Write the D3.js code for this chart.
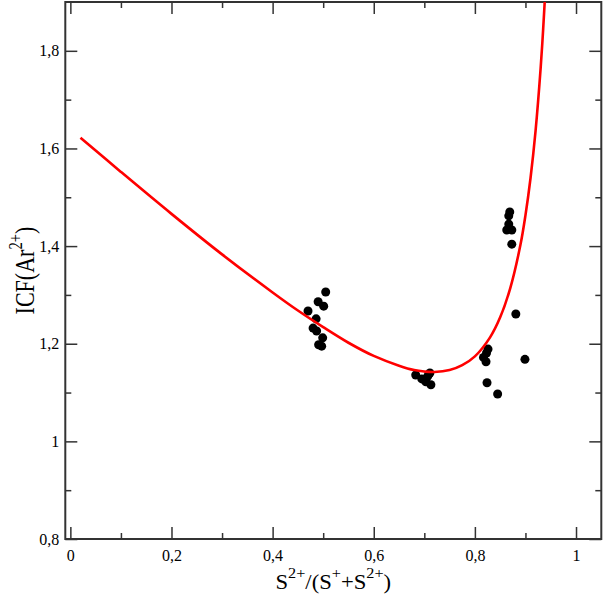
<!DOCTYPE html>
<html>
<head>
<meta charset="utf-8">
<script src="https://cdn.jsdelivr.net/npm/d3@7"></script>
<style>
  html, body { margin: 0; padding: 0; background: #fff; }
  svg { display: block; }
  text { font-family: "Liberation Serif", "DejaVu Serif", serif; fill: #000; }
</style>
</head>
<body>
<svg id="chart" width="603" height="596"></svg>
<script>
// ---- data ----
const obsX = [0.470, 0.505, 0.490, 0.501, 0.486, 0.480, 0.487, 0.499, 0.491, 0.497,
              0.683, 0.695, 0.707, 0.711, 0.713, 0.703,
              0.869, 0.867, 0.867, 0.863, 0.873, 0.873,
              0.881, 0.826, 0.823, 0.817, 0.822, 0.899, 0.824, 0.845];
const obsY = [1.267, 1.306, 1.286, 1.277, 1.251, 1.232, 1.226, 1.212, 1.198, 1.195,
              1.136, 1.128, 1.134, 1.140, 1.116, 1.122,
              1.470, 1.462, 1.445, 1.433, 1.433, 1.404,
              1.261, 1.189, 1.181, 1.172, 1.163, 1.168, 1.120, 1.097];

const fitX = [0.02, 0.10, 0.20, 0.30, 0.40, 0.45, 0.50, 0.55, 0.60, 0.65, 0.68, 0.70, 0.72,
              0.75, 0.775, 0.80, 0.83, 0.85, 0.87, 0.89, 0.90, 0.91, 0.92, 0.93, 0.935, 0.94];
const fitY = [1.622, 1.552, 1.466, 1.383, 1.305, 1.268, 1.234, 1.202, 1.175, 1.155, 1.146, 1.143, 1.142,
              1.146, 1.156, 1.174, 1.213, 1.254, 1.314, 1.402, 1.463, 1.539, 1.636, 1.764, 1.844, 1.937];

const xMajor = [0, 0.2, 0.4, 0.6, 0.8, 1.0];
const xMinor = [0.1, 0.3, 0.5, 0.7, 0.9];
const yMajor = [0.8, 1.0, 1.2, 1.4, 1.6, 1.8];
const yMinor = [0.9, 1.1, 1.3, 1.5, 1.7];

// ---- layout ----
const L = 65.3, R = 601.3, T = 2, B = 539;
const svg = d3.select("#chart");

const x = d3.scaleLinear().domain([-0.01, 1.05]).range([L, R]);
const y = d3.scaleLinear().domain([0.8, 1.9]).range([B, T]);

const fmt = d => String(+d.toFixed(1)).replace(".", ",");
const axisColor = "#333";
const SERIF = '"Liberation Serif", "DejaVu Serif", serif';

svg.append("defs").append("clipPath").attr("id", "clip")
  .append("rect").attr("x", L).attr("y", T).attr("width", R - L).attr("height", B - T);

function styleAxis(g) {
  g.attr("font-family", SERIF).attr("font-size", 16);
  g.select(".domain").remove();
  g.selectAll(".tick line").attr("stroke", axisColor).attr("stroke-width", 1.5);
  g.selectAll(".tick text").attr("fill", "#000");
}

// bottom
svg.append("g").attr("transform", `translate(0,${B})`)
  .call(d3.axisBottom(x).tickValues(xMajor).tickSize(-12).tickPadding(11).tickFormat(fmt)).call(styleAxis);
svg.append("g").attr("transform", `translate(0,${B})`)
  .call(d3.axisBottom(x).tickValues(xMinor).tickSize(-6).tickFormat("")).call(styleAxis);
// top
svg.append("g").attr("transform", `translate(0,${T})`)
  .call(d3.axisTop(x).tickValues(xMajor).tickSize(-12).tickFormat("")).call(styleAxis);
svg.append("g").attr("transform", `translate(0,${T})`)
  .call(d3.axisTop(x).tickValues(xMinor).tickSize(-6).tickFormat("")).call(styleAxis);
// left
svg.append("g").attr("transform", `translate(${L},0)`)
  .call(d3.axisLeft(y).tickValues(yMajor).tickSize(-12).tickPadding(6).tickFormat(fmt)).call(styleAxis);
svg.append("g").attr("transform", `translate(${L},0)`)
  .call(d3.axisLeft(y).tickValues(yMinor).tickSize(-6).tickFormat("")).call(styleAxis);
// right
svg.append("g").attr("transform", `translate(${R},0)`)
  .call(d3.axisRight(y).tickValues(yMajor).tickSize(-12).tickFormat("")).call(styleAxis);
svg.append("g").attr("transform", `translate(${R},0)`)
  .call(d3.axisRight(y).tickValues(yMinor).tickSize(-6).tickFormat("")).call(styleAxis);

// frame
svg.append("rect").attr("x", L).attr("y", T).attr("width", R - L).attr("height", B - T)
  .attr("fill", "none").attr("stroke", axisColor).attr("stroke-width", 2);

// points
const pts = obsX.map((v, i) => ({ x: v, y: obsY[i] }));
svg.append("g").selectAll("circle").data(pts).join("circle")
  .attr("cx", d => x(d.x)).attr("cy", d => y(d.y)).attr("r", 4.5).attr("fill", "#000");

// fitted curve
const fit = fitX.map((v, i) => ({ x: v, y: fitY[i] }));
svg.append("path").datum(fit)
  .attr("clip-path", "url(#clip)")
  .attr("fill", "none").attr("stroke", "#ff0000").attr("stroke-width", 2.6)
  .attr("d", d3.line().x(d => x(d.x)).y(d => y(d.y)).curve(d3.curveCatmullRom.alpha(0.5)));

// axis titles
const xt = svg.append("text")
  .attr("transform", `translate(${(L + R) / 2},589) scale(1.08,1)`)
  .attr("text-anchor", "middle").style("font-size", "21px");
xt.append("tspan").text("S");
xt.append("tspan").attr("dy", -11).style("font-size", "15px").text("2+");
xt.append("tspan").attr("dy", 11).text("/(S");
xt.append("tspan").attr("dy", -11).style("font-size", "15px").text("+");
xt.append("tspan").attr("dy", 11).text("+S");
xt.append("tspan").attr("dy", -11).style("font-size", "15px").text("2+");
xt.append("tspan").attr("dy", 11).text(")");

const yt = svg.append("text")
  .attr("transform", `translate(34,${(T + B) / 2}) rotate(-90) scale(1.05,1.35)`)
  .attr("text-anchor", "middle").style("font-size", "21px");
yt.append("tspan").text("ICF(Ar");
yt.append("tspan").attr("dy", -9).style("font-size", "14px").text("2+");
yt.append("tspan").attr("dy", 9).text(")");
</script>
</body>
</html>
